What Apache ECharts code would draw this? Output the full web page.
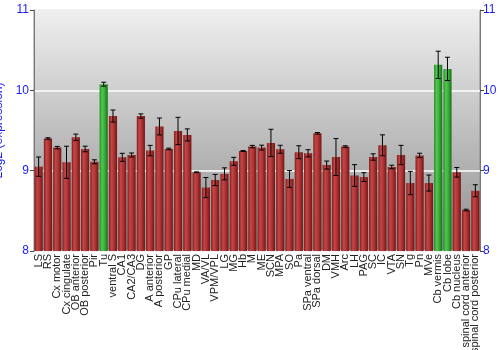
<!DOCTYPE html>
<html><head><meta charset="utf-8">
<script src="https://cdn.jsdelivr.net/npm/echarts@6/dist/echarts.min.js"></script>
<style>html,body{margin:0;padding:0;background:#fff}#c{width:500px;height:350px}</style>
</head><body><div id="c"></div>
<script>
const categories = ["LS","RS","Cx motor","Cx cingulate","OB anterior","OB posterior","Pir","Tu","ventral S","CA1","CA2/CA3","DG","A anterior","A posterior","GP","CPu lateral","CPu medial","MD","VA/VL","VPM/VPL","LG","MG","Hb","M","ME","SCN","MPA","SO","Pa","SPa ventral","SPa dorsal","DM","VMH","Arc","LH","PAG","SC","IC","VTA","SN","Tg","Pn","MVe","Cb vermis","Cb lobe","Cb nucleus","spinal cord anterior","spinal cord posterior"];
const values = [9.05,9.40,9.287,9.104,9.415,9.27,9.11,10.076,9.68,9.166,9.195,9.68,9.25,9.55,9.27,9.494,9.445,8.98,8.79,8.884,8.96,9.116,9.245,9.30,9.287,9.345,9.266,8.896,9.23,9.216,9.465,9.07,9.17,9.30,8.94,8.92,9.17,9.316,9.046,9.195,8.846,9.19,8.846,10.317,10.267,8.98,8.51,8.75];
const errors = [0.12,0.01,0.015,0.2,0.04,0.035,0.025,0.025,0.075,0.05,0.025,0.027,0.065,0.105,0.01,0.17,0.075,0.005,0.125,0.07,0.075,0.05,0.005,0.015,0.03,0.17,0.05,0.105,0.08,0.045,0.01,0.05,0.23,0.01,0.135,0.055,0.04,0.13,0.022,0.12,0.145,0.027,0.1,0.17,0.145,0.06,0.01,0.075];
const highlighted = ["Tu","Cb vermis","Cb lobe"];
const yTicks = [8,9,10,11];

const chart = echarts.init(document.getElementById('c'), null, {renderer:'canvas'});
const redGrad = new echarts.graphic.LinearGradient(0,0,1,0,[
  {offset:0,color:'#7e1c1c'},{offset:0.3,color:'#c64646'},{offset:0.6,color:'#b03434'},{offset:1,color:'#6e1616'}]);
const greenGrad = new echarts.graphic.LinearGradient(0,0,1,0,[
  {offset:0,color:'#228a22'},{offset:0.3,color:'#52c852'},{offset:0.6,color:'#3aae3a'},{offset:1,color:'#1c6e1c'}]);
const barData = values.map((v,i)=>({value:v, itemStyle:{color: highlighted.includes(categories[i]) ? greenGrad : redGrad}}));
const errData = values.map((v,i)=>[i, v-errors[i], v+errors[i]]);
const FONT = 'Liberation Sans';
function yLabel(margin){
  return {show:true, color:'#1a1aff', fontSize:12, fontFamily:FONT, margin:margin};
}
chart.setOption({
  animation:false,
  grid:{left:34, right:20, top:10, bottom:99,
    outerBounds:{left:-60, right:-60, top:-60, bottom:-60},
    show:true, borderColor:'#888', borderWidth:1,
    backgroundColor: new echarts.graphic.LinearGradient(0,0,0,1,[{offset:0,color:'#efefef'},{offset:1,color:'#8f8f8f'}])},
  xAxis:{type:'category', data:categories,
    axisLine:{show:false}, axisTick:{show:false},
    axisLabel:{rotate:90, interval:0, fontSize:11, color:'#222', fontFamily:FONT, margin:3}},
  yAxis:[
    {type:'value', position:'left', min:yTicks[0], max:yTicks[yTicks.length-1], interval:1,
      axisLine:{show:true, lineStyle:{color:'#777'}},
      axisTick:{show:true, length:4, lineStyle:{color:'#444'}},
      axisLabel:yLabel(5),
      name:'Log2 (expression)', nameLocation:'middle', nameGap:22,
      nameTextStyle:{color:'#1a1aff', fontSize:12, fontFamily:FONT},
      splitLine:{show:true, lineStyle:{color:'#ffffff', width:1.5}}},
    {type:'value', position:'right', min:yTicks[0], max:yTicks[yTicks.length-1], interval:1,
      axisLine:{show:true, lineStyle:{color:'#777'}},
      axisTick:{show:true, length:4, lineStyle:{color:'#444'}},
      axisLabel:yLabel(3),
      splitLine:{show:false}}
  ],
  series:[
    {type:'bar', data:barData, barCategoryGap:'12%'},
    {type:'custom', data:errData, z:5,
      renderItem:function(params, api){
        const x = api.value(0);
        const lo = api.coord([x, api.value(1)]);
        const hi = api.coord([x, api.value(2)]);
        const cx = lo[0], w = 2.5;
        const st = {stroke:'#000', lineWidth:1};
        return {type:'group', children:[
          {type:'line', shape:{x1:cx,y1:lo[1],x2:cx,y2:hi[1]}, style:st},
          {type:'line', shape:{x1:cx-w,y1:lo[1],x2:cx+w,y2:lo[1]}, style:st},
          {type:'line', shape:{x1:cx-w,y1:hi[1],x2:cx+w,y2:hi[1]}, style:st}
        ]};
      }}
  ]
});
</script></body></html>
